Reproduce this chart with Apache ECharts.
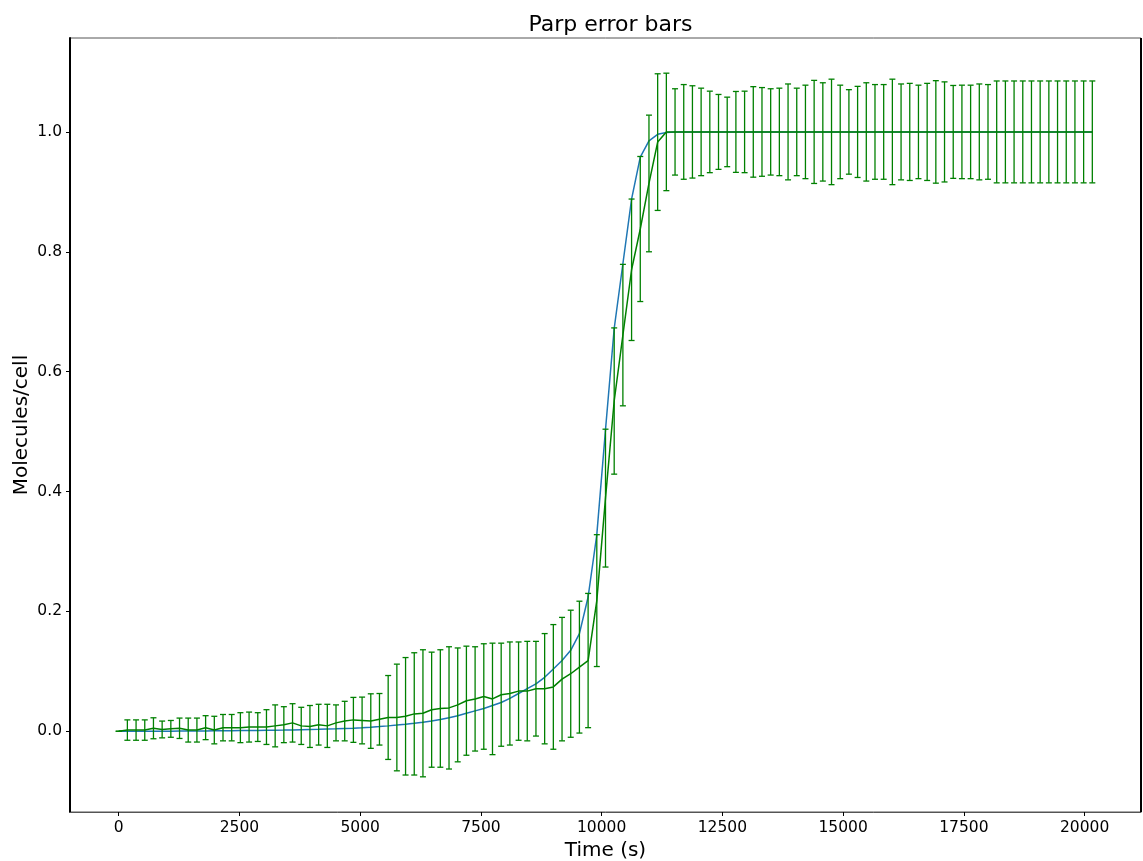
<!DOCTYPE html>
<html>
<head>
<meta charset="utf-8">
<title>Parp error bars</title>
<script src="https://cdn.jsdelivr.net/npm/echarts@6/dist/echarts.min.js"></script>
<style>
  html, body { margin: 0; padding: 0; background: #ffffff; }
  #chart { width: 1143px; height: 861px; }
</style>
</head>
<body>
<div id="chart"></div>
<script>
// Sample times (s)
const times = [
  0, 180, 360, 540, 720, 900, 1080, 1260, 1440, 1620,
  1800, 1980, 2160, 2340, 2520, 2700, 2880, 3060, 3240, 3420,
  3600, 3780, 3960, 4140, 4320, 4500, 4680, 4860, 5040, 5220,
  5400, 5580, 5760, 5940, 6120, 6300, 6480, 6660, 6840, 7020,
  7200, 7380, 7560, 7740, 7920, 8100, 8280, 8460, 8640, 8820,
  9000, 9180, 9360, 9540, 9720, 9900, 10080, 10260, 10440, 10620,
  10800, 10980, 11160, 11340, 11520, 11700, 11880, 12060, 12240, 12420,
  12600, 12780, 12960, 13140, 13320, 13500, 13680, 13860, 14040, 14220,
  14400, 14580, 14760, 14940, 15120, 15300, 15480, 15660, 15840, 16020,
  16200, 16380, 16560, 16740, 16920, 17100, 17280, 17460, 17640, 17820,
  18000, 18180, 18360, 18540, 18720, 18900, 19080, 19260, 19440, 19620,
  19800, 19980, 20160
];

// Model trajectory (molecules/cell)
const model = [
  0, 0, 0, 0.0001, 0.0001, 0.0002, 0.0002, 0.0003, 0.0004, 0.0005,
  0.0006, 0.0007, 0.0008, 0.0009, 0.0011, 0.0012, 0.0014, 0.0016, 0.0018, 0.002,
  0.0023, 0.0026, 0.0029, 0.0032, 0.0036, 0.004, 0.0045, 0.005, 0.0058, 0.0067,
  0.0078, 0.009, 0.0103, 0.0117, 0.0132, 0.015, 0.017, 0.0195, 0.0225, 0.026,
  0.030, 0.034, 0.038, 0.043, 0.048, 0.055, 0.063, 0.071, 0.079, 0.090,
  0.104, 0.118, 0.135, 0.163, 0.224, 0.328, 0.503, 0.672, 0.780, 0.888,
  0.958, 0.985, 0.996, 0.999, 1, 1, 1, 1, 1, 1,
  1, 1, 1, 1, 1, 1, 1, 1, 1, 1,
  1, 1, 1, 1, 1, 1, 1, 1, 1, 1,
  1, 1, 1, 1, 1, 1, 1, 1, 1, 1,
  1, 1, 1, 1, 1, 1, 1, 1, 1, 1,
  1, 1, 1
];

// Mean over cells (molecules/cell)
const meanVals = [
  0, 0.002, 0.002, 0.002, 0.005, 0.003, 0.004, 0.005, 0.002, 0.002,
  0.006, 0.002, 0.006, 0.006, 0.006, 0.007, 0.007, 0.007, 0.009, 0.011,
  0.014, 0.009, 0.008, 0.011, 0.009, 0.014, 0.017, 0.019, 0.018, 0.017,
  0.020, 0.023, 0.023, 0.025, 0.029, 0.030, 0.036, 0.038, 0.039, 0.044,
  0.051, 0.054, 0.058, 0.054, 0.061, 0.063, 0.067, 0.067, 0.071, 0.071,
  0.074, 0.087, 0.096, 0.107, 0.118, 0.218, 0.389, 0.551, 0.661, 0.770,
  0.838, 0.914, 0.983, 1, 1, 1, 1, 1, 1, 1,
  1, 1, 1, 1, 1, 1, 1, 1, 1, 1,
  1, 1, 1, 1, 1, 1, 1, 1, 1, 1,
  1, 1, 1, 1, 1, 1, 1, 1, 1, 1,
  1, 1, 1, 1, 1, 1, 1, 1, 1, 1,
  1, 1, 1
];

// Standard deviation over cells
const stdVals = [
  0, 0.017, 0.017, 0.017, 0.0175, 0.014, 0.014, 0.017, 0.020, 0.020,
  0.020, 0.023, 0.022, 0.022, 0.025, 0.025, 0.024, 0.029, 0.035, 0.030,
  0.032, 0.031, 0.035, 0.034, 0.036, 0.030, 0.033, 0.0375, 0.039, 0.0455,
  0.043, 0.070, 0.089, 0.098, 0.102, 0.106, 0.096, 0.098, 0.102, 0.095,
  0.091, 0.087, 0.088, 0.093, 0.086, 0.086, 0.082, 0.083, 0.079, 0.092,
  0.104, 0.103, 0.106, 0.110, 0.112, 0.110, 0.115, 0.122, 0.118, 0.118,
  0.121, 0.114, 0.114, 0.098, 0.072, 0.079, 0.077, 0.073, 0.068, 0.0625,
  0.058, 0.0675, 0.068, 0.0755, 0.074, 0.072, 0.073, 0.080, 0.073, 0.078,
  0.086, 0.082, 0.088, 0.078, 0.0705, 0.076, 0.082, 0.079, 0.079, 0.088,
  0.080, 0.081, 0.078, 0.081, 0.0855, 0.0835, 0.0775, 0.078, 0.078, 0.080,
  0.079, 0.085, 0.085, 0.085, 0.085, 0.085, 0.085, 0.085, 0.085, 0.085,
  0.085, 0.085, 0.085
];

const xTicks = [0, 2500, 5000, 7500, 10000, 12500, 15000, 17500, 20000];
const yTicks = [0, 0.2, 0.4, 0.6, 0.8, 1.0];

const FONT = 'DejaVu Sans';
const BLUE = '#1f77b4';
const GREEN = '#008000';

// Plot area in pixels
const GRID = { left: 70, top: 38, width: 1071, height: 774 };

// Axis limits: data extent plus 5% padding on each side
const tMin = Math.min(...times), tMax = Math.max(...times);
const tPad = (tMax - tMin) * 0.05;
const lows = meanVals.map((m, i) => m - stdVals[i]);
const highs = meanVals.map((m, i) => m + stdVals[i]);
const yLo = Math.min(...lows, ...model), yHi = Math.max(...highs, ...model);
const yPad = (yHi - yLo) * 0.05;

const modelData = times.map((t, i) => [t, model[i]]);
const meanData = times.map((t, i) => [t, meanVals[i]]);
const errData = times.map((t, i) => [t, lows[i], highs[i]]);

function renderErrorBar(params, api) {
  const t = api.value(0);
  const pLo = api.coord([t, api.value(1)]);
  const pHi = api.coord([t, api.value(2)]);
  const hw = 3;
  const style = { stroke: GREEN, lineWidth: 1.3 };
  return {
    type: 'group',
    children: [
      { type: 'line', shape: { x1: pLo[0], y1: pLo[1], x2: pHi[0], y2: pHi[1] }, style },
      { type: 'line', shape: { x1: pHi[0] - hw, y1: pHi[1], x2: pHi[0] + hw, y2: pHi[1] }, style },
      { type: 'line', shape: { x1: pLo[0] - hw, y1: pLo[1], x2: pLo[0] + hw, y2: pLo[1] }, style }
    ]
  };
}

const chart = echarts.init(document.getElementById('chart'), null, { renderer: 'canvas' });

chart.setOption({
  animation: false,
  backgroundColor: '#ffffff',
  textStyle: { fontFamily: FONT },
  title: {
    text: 'Parp error bars',
    left: GRID.left + GRID.width / 2,
    textAlign: 'center',
    top: 9,
    textStyle: { fontFamily: FONT, fontSize: 22, fontWeight: 'normal', color: '#000' }
  },
  grid: {
    left: GRID.left, top: GRID.top, width: GRID.width, height: GRID.height,
    outerBoundsMode: 'none',
    containLabel: false,
    show: true, borderColor: '#555', borderWidth: 1, backgroundColor: 'transparent'
  },
  xAxis: {
    type: 'value',
    min: tMin - tPad,
    max: tMax + tPad,
    name: 'Time (s)',
    nameLocation: 'middle',
    nameGap: 24,
    nameTextStyle: { fontFamily: FONT, fontSize: 20, color: '#000' },
    axisLine: { show: true, onZero: false, lineStyle: { color: '#555', width: 1 } },
    axisTick: { show: true, length: 4, customValues: xTicks, lineStyle: { color: '#000', width: 1 } },
    axisLabel: {
      show: true, customValues: xTicks, margin: 8,
      fontFamily: FONT, fontSize: 15.5, color: '#000',
      formatter: v => String(v)
    },
    splitLine: { show: false }
  },
  yAxis: {
    type: 'value',
    min: yLo - yPad,
    max: yHi + yPad,
    name: 'Molecules/cell',
    nameLocation: 'middle',
    nameMoveOverlap: false,
    nameGap: 38,
    nameTextStyle: { fontFamily: FONT, fontSize: 20, color: '#000' },
    axisLine: { show: true, onZero: false, lineStyle: { color: '#000', width: 2 } },
    axisTick: { show: true, length: 4, customValues: yTicks, lineStyle: { color: '#000', width: 1 } },
    axisLabel: {
      show: true, customValues: yTicks, margin: 8,
      fontFamily: FONT, fontSize: 15.5, color: '#000',
      formatter: v => v.toFixed(1)
    },
    splitLine: { show: false }
  },
  series: [
    {
      name: 'model',
      type: 'line',
      data: modelData,
      showSymbol: false,
      symbol: 'none',
      lineStyle: { color: BLUE, width: 1.5 },
      z: 2
    },
    {
      name: 'std',
      type: 'custom',
      data: errData,
      encode: { x: 0, y: [1, 2] },
      renderItem: renderErrorBar,
      z: 3
    },
    {
      name: 'mean',
      type: 'line',
      data: meanData,
      showSymbol: false,
      symbol: 'none',
      lineStyle: { color: GREEN, width: 1.5 },
      z: 4
    }
  ],
  graphic: [
    {
      // right spine
      type: 'line',
      shape: { x1: GRID.left + GRID.width, y1: GRID.top, x2: GRID.left + GRID.width, y2: GRID.top + GRID.height },
      style: { stroke: '#000', lineWidth: 2 },
      z: 10
    }
  ]
});
</script>
</body>
</html>
